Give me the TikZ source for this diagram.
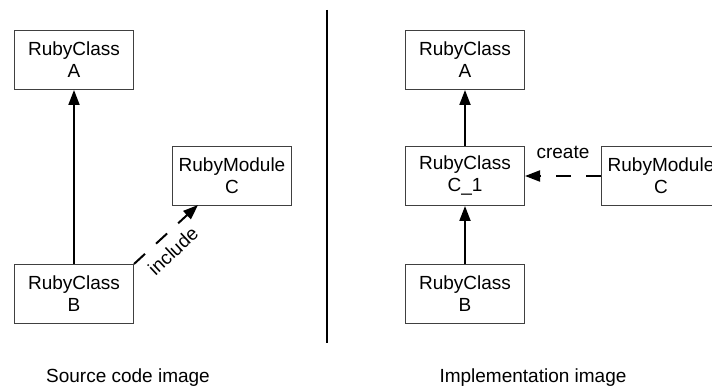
\documentclass[tikz,border=0pt]{standalone}
\usepackage{fontspec}
\setmainfont{Liberation Sans}
\usetikzlibrary{arrows.meta}
\begin{document}
\begin{tikzpicture}[x=1pt,y=-1pt,
  box/.style={draw=black!75, line width=1pt, fill=white, minimum width=119pt, minimum height=59pt, inner sep=0pt, align=center, font=\fontsize{19}{22}\selectfont, anchor=north west},
  lbl/.style={font=\fontsize{19}{22}\selectfont, inner sep=1pt},
  solidarr/.style={line width=2pt, -{Triangle[length=15pt,width=11pt]}},
  dasharr/.style={line width=2pt, dash pattern=on 15pt off 15pt, -{Triangle[length=15pt,width=11pt]}}]
\useasboundingbox (0,0) rectangle (712,390);
\clip (0,0) rectangle (712,390);
% left side
\node[box] (la) at (14,30) {RubyClass\\A};
\node[box] (lb) at (14,264) {RubyClass\\B};
\node[box] (lc) at (172,146) {RubyModule\\C};
\coordinate (inctip) at (198,205);
\draw[solidarr] (lb.north) -- (la.south);
\draw[dasharr] (lb.north east) -- (inctip);
\node[lbl, rotate=43] (inc) at (173,251) {include};
% separator
\coordinate (s1) at (327,10);
\coordinate (s2) at (327,343);
\draw[line width=2pt] (s1) -- (s2);
% right side
\node[box] (ra) at (405,30) {RubyClass\\A};
\node[box] (rc1) at (405,146) {RubyClass\\C\_1};
\node[box] (rb) at (405,264) {RubyClass\\B};
\node[box] (rm) at (601,146) {RubyModule\\C};
\draw[solidarr] (rc1.north) -- (ra.south);
\draw[solidarr] (rb.north) -- (rc1.south);
\draw[dasharr] (rm.west) -- (rc1.east);
\node[lbl] (cr) at (563,152) {create};
% captions
\node[lbl] (cap1) at (128,378) {Source code image};
\node[lbl] (cap2) at (533,378) {Implementation image};
\end{tikzpicture}
\end{document}
